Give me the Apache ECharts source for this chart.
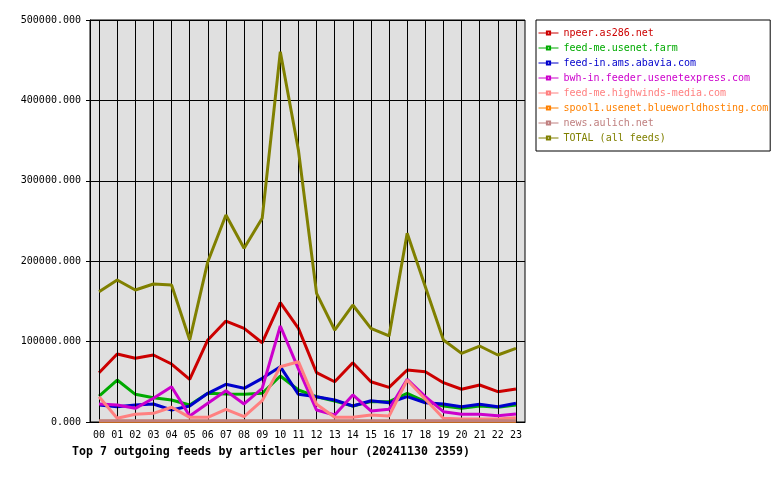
<!DOCTYPE html>
<html>
<head>
<meta charset="utf-8">
<title>Top 7 outgoing feeds</title>
<script src="https://cdn.jsdelivr.net/npm/echarts@6/dist/echarts.min.js"></script>
<style>
    html, body { margin: 0; padding: 0; background: #fff; }
    #biao { width: 780px; height: 480px; }
</style>
</head>
<body>
<div id="biao"></div>
<script>
// hours on x axis
var hours = ["00","01","02","03","04","05","06","07","08","09","10","11",
             "12","13","14","15","16","17","18","19","20","21","22","23"];

var feedNames = ["npeer.as286.net", "feed-me.usenet.farm", "feed-in.ams.abavia.com",
                 "bwh-in.feeder.usenetexpress.com", "feed-me.highwinds-media.com",
                 "spool1.usenet.blueworldhosting.com", "news.aulich.net", "TOTAL (all feeds)"];
var feedColors = ["#cc0000", "#00aa00", "#0000cc", "#cc00cc", "#ff8080", "#ff8000", "#c08080", "#808000"];

// articles per hour
var npeer = [61300, 84600, 79200, 83300, 72100, 53100, 102000, 125600, 116500, 98600, 148400, 116500,
             61300, 50100, 73800, 50100, 43100, 64700, 62600, 48900, 40700, 46000, 37700, 41000];
var usenetFarm = [32300, 52200, 34400, 30200, 27400, 21100, 35700, 34800, 34400, 35700, 57200, 39800,
                  31500, 26100, 19900, 25300, 25300, 35700, 25300, 19900, 17000, 19900, 18300, 21100];
var abavia = [21100, 19000, 21100, 22400, 14900, 19900, 35700, 46900, 41900, 54300, 68800, 34400,
              31500, 27400, 19900, 26500, 24000, 31500, 24000, 22400, 19000, 22000, 19000, 23200];
var usenetExpress = [22400, 21100, 17000, 29500, 43900, 7500, 23200, 38900, 22400, 41900, 119400, 66000,
                     14900, 8700, 33600, 13700, 15800, 53100, 31500, 12800, 9600, 9600, 7800, 10000];
var highwinds = [31500, 4600, 9600, 10800, 18300, 5800, 5800, 15800, 6600, 26500, 68800, 75000,
                 22000, 5800, 5800, 8700, 7500, 52200, 28200, 4600, 3700, 3700, 3700, 5300];
var blueworld = [1000, 1000, 1000, 1000, 1000, 1000, 1000, 1000, 1000, 1000, 1000, 1000,
                 1000, 1000, 1000, 1000, 1000, 1000, 1000, 1000, 1000, 1000, 1000, 1000];
var aulich = [1500, 1500, 1500, 1500, 1500, 1500, 1500, 1500, 1500, 1500, 1500, 1500,
              1500, 1500, 1500, 1500, 1500, 1500, 1500, 1500, 1500, 1500, 1500, 1500];
var total = [162000, 176600, 164200, 171600, 170400, 102000, 199400, 257500, 216000, 253300, 460600, 338000,
             160000, 114400, 145500, 116500, 107000, 234700, 168300, 102000, 85400, 94500, 83300, 91600];

var yTicks = [0, 100000, 200000, 300000, 400000, 500000];

var mono = "DejaVu Sans Mono";

function initChart(){
    var myChart = echarts.init(document.getElementById('biao'), null, {renderer: 'canvas'});
    var allData = [npeer, usenetFarm, abavia, usenetExpress, highwinds, blueworld, aulich, total];

    // vertical grid lines through every hour, under the data lines
    var series = [{
        name: 'hourgrid',
        type: 'line',
        data: [],
        z: 1,
        silent: true,
        markLine: {
            silent: true,
            symbol: ['none', 'none'],
            label: {show: false},
            lineStyle: {color: '#000', width: 1, type: 'solid'},
            data: hours.map(function(h){ return {xAxis: h}; })
        }
    }];
    var legendData = [];
    for (var i = 0; i < feedNames.length; i++) {
        series.push({
            name: feedNames[i],
            type: 'line',
            data: allData[i],
            symbol: 'emptyRect',
            showSymbol: false,
            lineStyle: {width: 3, color: feedColors[i]},
            itemStyle: {color: feedColors[i]},
            z: 2 + i
        });
        legendData.push({name: feedNames[i], textStyle: {color: feedColors[i]}});
    }

    var option = {
        animation: false,
        backgroundColor: '#fff',
        title: {
            text: 'Top 7 outgoing feeds by articles per hour (20241130 2359)',
            left: 72,
            top: 446,
            padding: 0,
            textStyle: {fontFamily: mono, fontWeight: 'bold', fontSize: 11.6, color: '#000'}
        },
        legend: {
            orient: 'vertical',
            left: 536,
            top: 20,
            padding: [5.5, 2, 5.5, 2],
            itemGap: 0,
            itemWidth: 20,
            itemHeight: 4,
            borderColor: '#000',
            borderWidth: 1,
            backgroundColor: '#fff',
            lineStyle: {width: 1},
            textStyle: {fontFamily: mono, fontSize: 10, lineHeight: 15},
            data: legendData
        },
        grid: {
            left: 90, right: 255, top: 20, bottom: 58,
            show: true,
            backgroundColor: '#e0e0e0',
            borderColor: '#000',
            borderWidth: 1
        },
        xAxis: {
            type: 'category',
            data: hours,
            boundaryGap: true,
            axisLine: {lineStyle: {color: '#000', width: 1}},
            axisTick: {alignWithLabel: true, length: 5, lineStyle: {color: '#000'}},
            axisLabel: {fontFamily: mono, fontSize: 10, color: '#000', margin: 8, interval: 0},
            splitLine: {show: false}
        },
        yAxis: {
            type: 'value',
            min: yTicks[0],
            max: yTicks[yTicks.length - 1],
            interval: 100000,
            axisLine: {show: true, lineStyle: {color: '#000'}},
            axisTick: {show: true, length: 4, lineStyle: {color: '#000'}},
            axisLabel: {
                fontFamily: mono, fontSize: 10, color: '#000', margin: 9,
                formatter: function(v){ return v.toFixed(3); }
            },
            splitLine: {show: true, lineStyle: {color: '#000', width: 1}}
        },
        series: series
    };

    myChart.setOption(option);
}

initChart();
</script>
</body>
</html>
